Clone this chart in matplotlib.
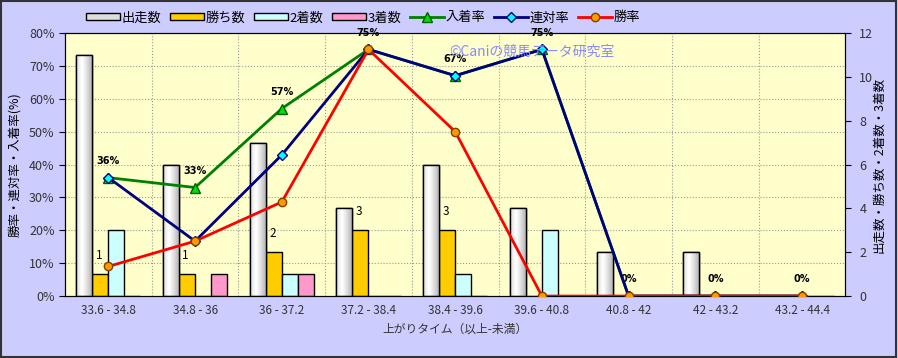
import numpy as np
import matplotlib.pyplot as plt
from matplotlib.patches import Rectangle, Patch

plt.rcParams['font.family'] = ['Noto Sans CJK JP', 'DejaVu Sans']

categories = ["33.6 - 34.8", "34.8 - 36", "36 - 37.2", "37.2 - 38.4", "38.4 - 39.6",
              "39.6 - 40.8", "40.8 - 42", "42 - 43.2", "43.2 - 44.4"]
runs = [11, 6, 7, 4, 6, 4, 2, 2, 0]
wins = [1, 1, 2, 3, 3, 0, 0, 0, 0]
seconds = [3, 0, 1, 0, 1, 3, 0, 0, 0]
thirds = [0, 1, 1, 0, 0, 0, 0, 0, 0]
place_rate = [0.36, 0.33, 0.57, 0.75, 0.67, 0.75, 0, 0, 0]
rentai_rate = [0.36, 0.167, 0.429, 0.75, 0.67, 0.75, 0, 0, 0]
win_rate = [0.09, 0.167, 0.286, 0.75, 0.50, 0, 0, 0, 0]
place_labels = ["36%", "33%", "57%", "75%", "67%", "75%", "0%", "0%", "0%"]

fig = plt.figure(figsize=(8.98, 3.58), dpi=100, facecolor='#CCCCFF')
fig.patches.append(Rectangle((0.001, 0.003), 0.997, 0.994, transform=fig.transFigure,
                             fill=False, edgecolor='#333333', linewidth=1.5))

ax = fig.add_axes([0.0724, 0.173, 0.869, 0.735])
ax.set_facecolor('#FFFFCC')
x = np.arange(len(categories))
w = 0.185

# grid
for p in np.arange(0.1, 0.8, 0.1):
    ax.axhline(p * 12 / 0.8, color='#999999', linestyle=':', linewidth=0.8, zorder=0)
for b in x[:-1] + 0.5:
    ax.axvline(b, color='#999999', linestyle=':', linewidth=0.8, zorder=0)

# run bars with a shaded look
grad = np.linspace(0, 1, 64)
grad = 1 - 0.55 * np.abs(grad - 0.35) ** 1.2
grad = np.tile(grad, (2, 1))
bars = ax.bar(x - 1.5 * w, runs, w, color='white', edgecolor='black', linewidth=1, zorder=2)
for r in bars:
    if r.get_height() == 0:
        continue
    x0, y0 = r.get_x(), r.get_y()
    im = ax.imshow(grad, cmap='gray', vmin=0, vmax=1, aspect='auto', zorder=2.1,
                   extent=(x0, x0 + r.get_width(), y0, y0 + r.get_height()))
    im.set_clip_path(r)
    ax.add_patch(Rectangle((x0, y0), r.get_width(), r.get_height(), fill=False,
                           edgecolor='black', linewidth=1, zorder=2.2))

ax.bar(x - 0.5 * w, wins, w, color='#FFCC00', edgecolor='black', linewidth=1, zorder=2)
ax.bar(x + 0.5 * w, seconds, w, color='#CCFFFF', edgecolor='black', linewidth=1, zorder=2)
ax.bar(x + 1.5 * w, thirds, w, color='#FF99CC', edgecolor='black', linewidth=1, zorder=2)
for i, v in enumerate(wins):
    if v > 0:
        ax.annotate(str(v), (x[i] - 0.5 * w, v), xytext=(-1, 9), textcoords='offset points',
                    ha='center', va='bottom', fontsize=8.5, zorder=5)

ax.set_xlim(-0.5, len(categories) - 0.5)
ax.set_ylim(0, 12)
ax.set_xticks(x)
ax.set_xticklabels(categories, fontsize=8.5, color='#333333')
ax.tick_params(axis='x', length=0, pad=6)
ax.set_xlabel("上がりタイム（以上-未満）", fontsize=8.5, color='#333333', labelpad=4)

ax2 = ax.twinx()
ax2.plot(x, place_rate, color='#008000', linewidth=2, marker='^', markersize=7,
         markerfacecolor='#00DD00', markeredgecolor='#006000', zorder=3, label='入着率')
ax2.plot(x, rentai_rate, color='#000080', linewidth=2, marker='D', markersize=5,
         markerfacecolor='#00FFFF', markeredgecolor='#000080', zorder=4, label='連対率')
ax2.plot(x, win_rate, color='#FF0000', linewidth=2, marker='o', markersize=6,
         markerfacecolor='#FF9900', markeredgecolor='#804000', zorder=5, label='勝率')
for i, t in enumerate(place_labels):
    ax2.annotate(t, (x[i], place_rate[i]), xytext=(0, 12), textcoords='offset points',
                 ha='center', va='center', fontsize=7, fontweight='bold', family='DejaVu Sans')
ax2.set_ylim(0, 0.8)
ax2.set_yticks(np.arange(0, 0.81, 0.1))
ax2.set_yticklabels([f"{int(round(v * 100))}%" for v in np.arange(0, 0.81, 0.1)])
ax2.yaxis.tick_left()
ax2.yaxis.set_label_position('left')
ax2.set_ylabel("勝率・連対率・入着率(%)", fontsize=9, labelpad=6)
ax2.tick_params(axis='y', labelsize=9, labelcolor='#333333', direction='out', length=4)
ax2.set_xlim(-0.5, len(categories) - 0.5)

# count axis on the right (after twinx, which resets tick side)
ax.set_yticks(range(0, 13, 2))
ax.yaxis.tick_right()
ax.tick_params(axis='y', labelsize=9, labelcolor='#333333', direction='out', length=4, pad=6)
fig.text(0.979, 0.54, "出走数・勝ち数・2着数・3着数", rotation=90, fontsize=9,
         ha='center', va='center')

ax2.text(0.492, 0.93, "©Caniの競馬データ研究室", transform=ax2.transAxes, fontsize=10,
         color='#8888FF', ha='left', va='center', zorder=6)

for s in ax.spines.values():
    s.set_color('black')

# legend
handles = [Patch(facecolor='#DDDDDD', edgecolor='black', label='出走数'),
           Patch(facecolor='#FFCC00', edgecolor='black', label='勝ち数'),
           Patch(facecolor='#CCFFFF', edgecolor='black', label='2着数'),
           Patch(facecolor='#FF99CC', edgecolor='black', label='3着数')]
handles += ax2.get_lines()
fig.legend(handles=handles, loc='center left', bbox_to_anchor=(0.088, 0.95), ncol=7,
           frameon=False, fontsize=9.5, handlelength=2.6, handleheight=0.5,
           columnspacing=0.6, handletextpad=0.15, borderpad=0)

fig.savefig('out.png', dpi=100, facecolor=fig.get_facecolor())
